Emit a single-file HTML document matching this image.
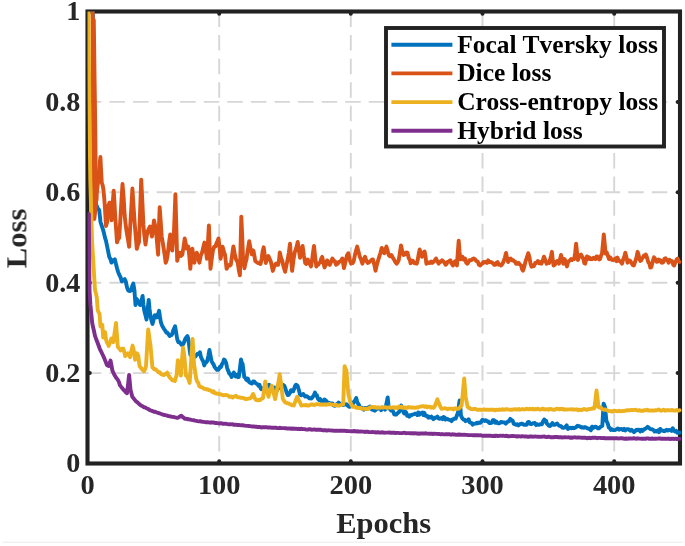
<!DOCTYPE html>
<html><head><meta charset="utf-8"><style>
html,body{margin:0;padding:0;background:#fff;width:685px;height:546px;overflow:hidden}
body>svg{display:block;filter:blur(0.4px)}
text{font-family:"Liberation Serif",serif;font-weight:bold;fill:#262626}
.txt{opacity:0.999}
.t{font-size:27.6px}
.l{font-size:30px}
.g{font-size:24.6px;fill:#000}
</style></head><body>
<svg width="685" height="546" viewBox="0 0 685 546">
<rect x="0" y="0" width="685" height="546" fill="#fff"/>
<line x1="2.5" y1="542.3" x2="683" y2="542.3" stroke="#f1f1f1" stroke-width="1.5"/>
<line x1="85.84" y1="373.1" x2="680.0" y2="373.1" stroke="#d6d6d6" stroke-width="1.9" stroke-dasharray="15.5 8.08"/>
<line x1="85.84" y1="282.7" x2="680.0" y2="282.7" stroke="#d6d6d6" stroke-width="1.9" stroke-dasharray="15.5 8.08"/>
<line x1="85.84" y1="192.3" x2="680.0" y2="192.3" stroke="#d6d6d6" stroke-width="1.9" stroke-dasharray="15.5 8.08"/>
<line x1="85.84" y1="101.9" x2="680.0" y2="101.9" stroke="#d6d6d6" stroke-width="1.9" stroke-dasharray="15.5 8.08"/>
<line x1="219.2" y1="11.5" x2="219.2" y2="463.5" stroke="#d6d6d6" stroke-width="1.9" stroke-dasharray="15.5 8.08"/>
<line x1="350.8" y1="11.5" x2="350.8" y2="463.5" stroke="#d6d6d6" stroke-width="1.9" stroke-dasharray="15.5 8.08"/>
<line x1="482.5" y1="11.5" x2="482.5" y2="463.5" stroke="#d6d6d6" stroke-width="1.9" stroke-dasharray="15.5 8.08"/>
<line x1="614.2" y1="11.5" x2="614.2" y2="463.5" stroke="#d6d6d6" stroke-width="1.9" stroke-dasharray="15.5 8.08"/>
<rect x="87.5" y="11.5" width="592.5" height="452.0" fill="none" stroke="#222222" stroke-width="4.1"/>
<line x1="219.2" y1="462.9" x2="219.2" y2="461.2" stroke="#222222" stroke-width="4" stroke-linecap="round"/>
<line x1="219.2" y1="12.1" x2="219.2" y2="13.8" stroke="#222222" stroke-width="4" stroke-linecap="round"/>
<line x1="350.8" y1="462.9" x2="350.8" y2="461.2" stroke="#222222" stroke-width="4" stroke-linecap="round"/>
<line x1="350.8" y1="12.1" x2="350.8" y2="13.8" stroke="#222222" stroke-width="4" stroke-linecap="round"/>
<line x1="482.5" y1="462.9" x2="482.5" y2="461.2" stroke="#222222" stroke-width="4" stroke-linecap="round"/>
<line x1="482.5" y1="12.1" x2="482.5" y2="13.8" stroke="#222222" stroke-width="4" stroke-linecap="round"/>
<line x1="614.2" y1="462.9" x2="614.2" y2="461.2" stroke="#222222" stroke-width="4" stroke-linecap="round"/>
<line x1="614.2" y1="12.1" x2="614.2" y2="13.8" stroke="#222222" stroke-width="4" stroke-linecap="round"/>
<line x1="88.1" y1="373.1" x2="89.8" y2="373.1" stroke="#222222" stroke-width="4" stroke-linecap="round"/>
<line x1="679.4" y1="373.1" x2="677.7" y2="373.1" stroke="#222222" stroke-width="4" stroke-linecap="round"/>
<line x1="88.1" y1="282.7" x2="89.8" y2="282.7" stroke="#222222" stroke-width="4" stroke-linecap="round"/>
<line x1="679.4" y1="282.7" x2="677.7" y2="282.7" stroke="#222222" stroke-width="4" stroke-linecap="round"/>
<line x1="88.1" y1="192.3" x2="89.8" y2="192.3" stroke="#222222" stroke-width="4" stroke-linecap="round"/>
<line x1="679.4" y1="192.3" x2="677.7" y2="192.3" stroke="#222222" stroke-width="4" stroke-linecap="round"/>
<line x1="88.1" y1="101.9" x2="89.8" y2="101.9" stroke="#222222" stroke-width="4" stroke-linecap="round"/>
<line x1="679.4" y1="101.9" x2="677.7" y2="101.9" stroke="#222222" stroke-width="4" stroke-linecap="round"/>
<svg x="87.5" y="11.5" width="594.5" height="452.0" viewBox="87.5 11.5 594.5 452.0" overflow="hidden">
<polyline points="92.8,0.0 93.5,150.0 95.3,202.0 96.6,205.8 97.9,208.6 99.2,210.0 100.5,222.0 101.6,225.4 102.7,228.6 103.8,232.4 104.9,237.4 106.0,240.9 107.1,246.2 108.2,251.7 109.3,257.1 110.4,259.0 111.5,262.6 112.6,260.3 113.7,260.6 114.8,259.3 115.9,263.8 117.0,268.1 118.1,271.9 119.2,274.7 120.5,277.2 121.8,281.3 122.8,280.6 123.7,279.8 124.7,279.1 125.8,281.5 126.9,286.9 128.0,290.1 129.0,290.8 130.0,291.0 131.1,290.5 132.2,286.2 133.3,283.5 134.4,290.0 135.5,305.0 136.6,299.0 137.7,300.4 138.8,302.0 139.6,304.5 140.4,305.0 141.5,300.7 142.6,296.0 143.4,304.2 144.3,310.8 145.4,314.9 146.5,319.6 147.6,310.0 148.7,300.0 149.5,308.5 150.3,315.2 151.4,320.2 152.5,324.0 153.6,319.7 154.7,315.2 155.8,315.4 156.9,317.4 158.0,314.5 159.1,310.8 159.9,316.4 160.8,321.8 161.9,325.2 163.0,327.3 164.1,329.1 165.2,330.5 166.3,332.5 167.4,332.7 168.5,334.3 169.6,336.0 170.5,335.4 171.4,335.1 172.3,333.8 173.2,330.3 174.2,328.4 175.1,326.2 176.1,332.2 177.2,339.0 178.3,342.2 179.4,342.0 180.5,343.4 181.6,344.9 182.3,345.1 183.1,344.2 184.1,342.1 185.2,339.0 186.3,337.3 187.4,336.1 188.2,338.4 188.9,343.4 189.7,350.1 190.4,355.1 191.4,355.7 192.3,357.6 193.3,358.0 194.4,356.2 195.5,356.6 196.6,354.8 197.7,353.7 198.8,354.0 199.9,352.2 201.0,357.1 202.1,359.5 203.2,361.3 204.3,365.4 205.3,362.8 206.2,362.4 207.2,361.0 208.3,356.1 209.4,350.0 210.5,355.6 211.6,361.0 212.6,363.2 213.5,364.1 214.5,366.9 215.7,368.4 217.0,369.8 218.2,369.8 219.2,368.5 220.1,366.6 221.1,366.9 222.1,363.8 223.0,362.6 224.0,359.5 225.0,360.5 226.1,362.9 227.2,368.2 228.3,370.9 229.4,373.7 230.5,374.5 231.6,377.0 232.7,374.7 233.8,372.6 234.7,374.3 235.5,376.4 236.3,375.6 237.1,374.8 237.9,377.2 238.8,377.0 239.9,368.6 241.0,359.4 241.8,362.7 242.6,363.8 243.4,370.3 244.3,377.0 245.2,377.7 246.1,379.5 247.0,380.3 247.9,378.6 248.9,381.7 249.8,382.5 250.9,383.2 252.0,383.6 253.1,381.5 254.2,381.4 255.3,382.9 256.4,383.6 257.5,384.2 258.6,385.8 259.5,384.8 260.4,387.8 261.3,389.1 262.4,388.3 263.5,389.1 264.4,387.9 265.4,387.5 266.3,386.9 267.2,387.2 268.1,385.5 269.0,384.7 270.1,385.8 271.2,386.9 272.3,387.8 273.4,388.0 274.5,387.6 275.6,390.2 276.7,390.7 277.8,389.1 278.9,387.1 280.0,387.3 281.1,385.8 282.2,384.8 283.3,385.0 284.4,385.8 285.5,388.8 286.6,392.4 287.7,395.1 288.8,394.6 289.9,393.0 291.0,390.2 292.1,390.2 293.2,391.3 294.1,388.9 295.1,385.9 296.0,384.7 296.8,385.2 297.6,385.8 298.8,389.7 300.0,394.6 301.1,395.2 302.3,394.5 303.3,394.0 304.3,395.5 305.3,396.5 306.3,396.1 307.4,396.6 308.4,397.5 309.4,398.4 310.4,398.3 311.4,398.5 312.6,397.0 313.8,395.5 315.0,392.5 315.9,395.5 316.9,395.3 317.8,398.5 319.0,400.0 320.2,399.0 321.4,401.5 322.4,400.8 323.5,401.8 324.5,399.5 325.5,400.3 326.5,401.2 327.5,402.5 328.5,402.9 329.5,403.0 330.5,403.3 331.5,403.5 332.5,403.4 333.5,405.4 334.5,405.8 335.5,405.5 336.5,404.3 337.6,403.8 338.6,402.5 339.6,403.7 340.6,404.7 341.6,404.5 342.6,404.8 343.6,405.1 344.6,404.3 345.6,404.5 346.6,404.3 347.6,405.4 348.6,406.5 349.6,406.9 350.6,406.3 351.6,405.1 352.6,404.5 353.8,401.9 355.0,400.4 356.2,398.0 357.4,402.7 358.7,404.5 359.7,407.2 360.7,407.6 361.7,407.7 362.7,408.9 363.7,409.6 364.7,408.0 365.7,408.0 366.7,408.6 367.7,408.1 368.8,407.2 369.8,406.5 370.8,408.4 371.8,409.6 372.8,409.6 373.9,410.3 374.9,410.7 376.0,409.6 377.0,408.8 378.1,408.0 379.1,408.6 380.1,408.7 381.1,410.2 382.1,407.6 383.1,408.6 384.1,408.0 385.1,409.6 386.4,403.8 387.7,397.5 388.4,404.3 389.1,408.6 390.1,408.4 391.1,410.6 392.1,410.6 393.1,411.4 394.2,414.3 395.2,414.6 396.2,414.6 397.2,413.5 398.2,412.6 399.2,411.9 400.2,407.5 401.2,405.5 402.2,408.0 403.2,411.6 404.2,413.5 405.2,411.5 406.2,412.6 407.2,415.8 408.3,415.2 409.3,416.6 410.3,415.1 411.3,415.3 412.3,414.6 413.3,414.4 414.3,414.1 415.3,413.6 416.3,413.7 417.3,415.0 418.3,412.4 419.3,414.6 420.3,413.5 421.3,413.0 422.3,412.6 423.3,415.1 424.4,412.9 425.4,415.6 426.4,416.0 427.4,416.0 428.4,417.6 429.4,416.7 430.4,417.5 431.4,416.6 432.4,417.6 433.4,419.2 434.4,418.6 435.4,417.4 436.4,417.5 437.4,416.6 438.4,418.3 439.5,418.7 440.5,418.6 441.5,418.1 442.5,419.1 443.5,417.1 444.5,417.6 445.5,419.6 446.5,418.7 447.5,419.0 448.5,419.6 449.5,419.8 450.5,420.3 451.5,421.1 452.5,419.6 453.5,419.1 454.6,418.6 455.6,418.6 456.9,415.6 458.2,411.6 458.9,405.3 459.6,400.5 460.3,406.6 461.0,415.6 462.3,418.3 463.6,419.6 464.6,419.6 465.6,421.2 466.6,420.6 467.6,420.3 468.6,419.2 469.7,422.4 470.7,422.7 471.7,423.1 472.7,424.6 473.7,423.9 474.7,423.7 475.9,423.5 477.0,422.7 478.0,423.3 479.0,422.5 480.0,422.9 481.2,422.0 482.3,419.9 483.5,420.1 484.7,420.9 485.8,420.2 487.0,421.3 488.2,421.5 489.3,423.0 490.5,423.0 491.7,422.8 492.8,420.2 494.0,420.1 495.2,422.8 496.3,421.5 497.5,423.0 498.7,423.3 499.8,423.1 501.0,421.9 502.2,422.3 503.3,422.4 504.5,422.5 505.7,423.6 506.8,422.5 508.0,421.3 509.2,421.3 510.3,418.9 511.5,420.1 512.7,420.8 513.8,423.8 515.0,424.2 516.2,424.8 517.3,424.2 518.5,425.4 519.7,424.3 520.8,423.9 522.0,423.6 523.2,424.6 524.3,424.7 525.5,424.8 526.7,424.7 527.8,422.2 529.0,421.9 530.2,423.9 531.4,424.2 532.6,423.4 533.7,423.1 534.9,423.0 536.1,425.1 537.2,424.3 538.4,424.8 539.6,424.5 540.7,424.2 541.9,424.2 543.0,421.5 544.2,419.5 545.1,421.4 546.0,420.7 546.9,423.6 547.7,424.2 548.9,425.7 550.1,426.0 551.2,424.7 552.4,423.0 553.5,424.8 554.7,424.8 555.9,424.1 557.1,423.6 558.1,424.8 559.0,425.5 560.0,426.0 561.1,426.2 562.2,427.7 563.3,427.9 564.4,427.7 565.5,426.7 566.7,425.4 567.9,428.9 569.2,428.3 570.4,427.6 571.6,428.3 572.8,427.8 574.0,428.2 575.2,427.7 576.4,426.9 577.6,425.7 578.8,426.2 580.0,426.5 581.3,427.6 582.5,427.2 583.7,427.7 584.9,427.1 586.1,427.6 587.3,428.2 588.5,428.8 589.7,428.7 590.9,430.2 592.1,426.7 593.3,427.9 594.5,427.0 595.7,426.7 596.7,427.2 597.8,428.3 598.8,428.4 599.8,427.6 601.0,426.6 602.3,425.9 603.6,403.7 604.4,405.3 605.1,407.8 606.4,421.0 607.6,423.1 608.8,427.6 609.8,428.1 610.9,429.9 612.0,429.2 613.0,430.0 614.2,430.2 615.5,429.8 616.7,429.1 617.9,428.4 619.1,429.7 620.4,429.1 621.6,428.9 622.9,430.0 624.1,428.8 625.3,430.4 626.6,429.1 627.8,429.2 629.0,429.4 630.2,430.8 631.5,429.8 632.7,430.9 634.0,432.2 635.2,431.0 636.5,429.8 637.7,430.0 638.9,429.7 640.2,431.4 641.4,429.7 642.6,430.9 643.9,429.3 645.1,428.9 646.4,428.0 647.6,426.8 648.7,427.6 649.8,428.7 650.9,429.2 652.1,429.3 653.3,429.9 654.6,431.6 655.8,430.9 656.9,431.4 658.0,430.4 659.1,432.2 660.2,428.9 661.3,430.6 662.4,430.5 663.5,431.0 664.6,431.2 665.7,430.3 666.8,429.8 667.9,430.6 669.0,430.0 670.2,430.1 671.5,430.9 672.8,428.2 674.0,430.9 675.1,431.5 676.2,430.9 677.3,432.7 678.4,432.8 679.5,432.5" fill="none" stroke="#0072BD" stroke-width="3.9" stroke-linejoin="round" stroke-linecap="round"/>
<polyline points="93.8,20.0 94.6,80.0 95.3,130.0 95.7,175.0 96.5,200.0" fill="none" stroke="#D95319" stroke-width="3.9" stroke-linejoin="round" stroke-linecap="round"/>
<polyline points="92.6,0.0 93.2,100.0 93.7,150.0 94.3,219.0 95.5,208.9 96.7,193.5 98.0,182.2 99.2,169.5 100.4,157.0 101.1,170.8 101.8,183.0 102.6,184.9 103.4,189.6 104.2,197.9 104.9,207.0 106.0,226.0 107.1,222.5 107.8,213.0 108.6,205.0 109.5,202.8 110.4,202.7 111.5,220.3 112.6,204.7 113.7,190.7 114.5,202.8 115.2,216.0 116.1,228.9 117.0,242.3 118.1,239.2 119.2,238.0 120.3,220.4 121.4,201.5 122.5,184.0 123.6,196.8 124.7,216.0 125.8,225.9 126.9,233.5 128.0,239.7 129.1,246.7 130.2,226.6 131.3,208.2 132.4,188.5 133.5,205.7 134.6,222.5 135.7,235.8 136.8,248.9 137.9,244.7 139.0,242.3 140.1,211.2 141.2,179.7 142.3,200.7 143.4,224.7 144.4,236.0 145.5,244.5 146.6,236.6 147.7,231.3 148.8,228.7 150.0,226.5 151.0,231.5 152.0,236.5 153.0,228.7 154.0,220.4 155.0,225.2 156.0,230.5 157.1,243.1 158.1,254.7 158.9,227.4 159.7,207.3 160.7,221.7 161.7,236.5 162.7,242.3 163.7,248.6 164.7,255.1 165.7,262.7 166.7,260.1 167.7,254.7 168.9,243.5 170.2,234.5 171.2,242.3 172.2,250.6 173.0,241.4 173.8,236.5 174.6,215.5 175.4,194.2 176.3,225.7 177.2,260.7 178.5,255.0 179.8,252.7 181.1,255.9 182.3,254.7 183.5,247.2 184.7,238.5 185.7,243.4 186.7,248.6 187.5,247.6 188.3,246.6 189.3,256.1 190.3,268.8 191.3,257.5 192.3,248.6 193.4,255.9 194.4,262.7 195.6,255.4 196.8,252.7 198.1,257.8 199.4,262.7 200.7,255.8 202.0,252.7 203.2,247.6 204.4,242.6 205.7,249.4 206.9,258.7 207.9,243.7 208.9,225.4 209.7,248.0 210.5,268.8 211.7,259.0 212.9,250.6 214.2,246.6 215.5,246.6 216.5,243.0 217.5,241.0 218.5,238.5 219.6,247.5 220.6,258.7 221.6,252.8 222.6,246.6 223.8,251.5 225.0,254.7 225.8,261.6 226.6,268.8 227.8,266.3 229.0,265.0 229.9,265.6 230.8,264.8 232.1,255.2 233.4,246.4 234.7,253.7 236.0,259.5 236.9,260.8 237.8,263.0 238.9,270.7 239.9,275.3 240.6,245.5 241.3,216.6 242.2,236.0 243.0,257.8 243.7,263.0 244.4,268.3 245.4,263.1 246.5,259.5 247.4,252.3 248.3,247.0 249.2,241.2 250.5,248.4 251.8,254.3 252.7,250.2 253.5,250.8 254.4,255.9 255.3,261.3 256.6,261.9 257.9,263.0 259.2,263.2 260.5,264.0 261.6,259.1 262.6,251.4 263.7,247.3 264.8,255.7 265.8,263.0 267.1,259.1 268.4,256.0 269.5,258.6 270.7,261.3 271.8,265.8 272.8,270.9 274.1,267.0 275.4,264.0 276.3,263.6 277.2,264.8 278.1,264.8 279.0,260.7 279.8,252.5 281.1,257.9 282.4,261.3 283.3,265.6 284.2,268.8 285.1,271.8 286.4,265.1 287.7,259.5 288.9,252.2 290.0,243.8 291.1,259.3 292.1,270.9 293.4,260.3 294.7,252.5 295.7,249.7 296.7,246.4 297.7,242.0 298.9,250.1 300.0,257.8 301.3,252.6 302.6,245.9 303.9,255.8 305.2,263.0 306.1,264.0 307.0,261.9 307.9,259.5 308.9,263.4 310.0,264.4 311.0,266.5 312.0,260.4 313.0,252.9 314.0,245.9 315.1,256.4 316.3,266.5 317.3,264.8 318.2,264.8 319.2,263.0 320.2,262.4 321.2,258.7 322.2,256.9 323.4,262.3 324.5,267.4 325.8,264.5 327.1,260.4 328.0,261.8 328.9,264.2 329.8,264.8 331.1,261.9 332.4,258.5 333.5,260.2 334.8,261.2 336.1,264.7 337.0,262.7 337.9,263.6 338.8,262.0 340.0,261.4 341.1,260.7 342.3,258.5 343.1,263.5 344.0,268.1 344.9,264.3 345.8,260.2 347.1,255.1 348.4,253.2 349.7,259.8 351.0,263.7 351.9,261.9 352.8,263.0 353.7,261.1 354.9,255.1 356.0,250.7 357.2,246.6 358.5,251.8 359.8,256.7 361.1,259.7 362.4,263.7 363.7,259.5 365.0,256.7 365.9,259.6 366.8,261.5 367.7,262.9 369.0,262.4 370.3,261.1 371.6,259.9 372.9,259.4 374.2,264.2 375.5,270.7 376.4,266.7 377.3,263.1 378.2,260.2 379.4,256.1 380.5,252.8 381.7,248.0 383.0,250.4 384.3,253.2 385.4,249.1 386.4,246.6 387.5,250.2 388.7,255.0 390.0,256.3 391.3,255.0 392.6,257.3 393.9,259.4 394.8,261.1 395.7,262.5 396.6,263.7 397.6,262.5 398.7,260.2 399.9,252.9 401.0,245.4 402.3,251.4 403.6,255.0 404.9,254.5 406.2,252.4 407.5,252.6 408.8,258.5 409.7,259.2 410.6,263.2 411.5,261.1 412.8,260.7 414.1,262.9 415.4,263.4 416.7,263.7 417.7,260.0 418.7,254.2 419.7,249.4 420.9,254.4 422.0,256.7 423.3,252.8 424.6,251.5 425.5,256.3 426.4,263.7 427.6,263.2 428.7,262.4 429.9,262.9 431.1,261.5 432.2,262.9 433.4,262.0 434.7,260.5 436.0,258.5 437.3,261.1 438.6,263.7 439.8,262.1 440.9,261.6 442.1,260.2 443.3,261.6 444.4,262.5 445.6,264.7 446.6,263.9 447.6,262.0 448.5,261.8 449.4,260.9 450.3,260.2 451.6,263.5 452.9,265.5 454.2,262.2 455.5,261.1 456.2,263.2 456.9,265.5 457.8,252.6 458.7,240.7 459.5,251.4 460.4,259.4 461.4,258.6 462.5,256.7 463.8,259.7 465.1,258.5 466.2,262.7 467.4,263.7 468.4,262.2 469.4,260.3 470.4,260.2 471.6,260.1 472.7,258.8 473.9,258.5 475.2,259.6 476.5,261.1 477.7,261.5 478.8,264.6 480.0,265.5 481.2,264.5 482.3,263.6 483.5,262.0 484.7,262.6 485.8,261.7 487.0,262.9 488.2,260.4 489.3,262.0 490.5,262.0 491.7,262.3 492.9,263.3 494.1,264.7 495.3,264.8 496.4,262.8 497.6,262.0 498.8,264.7 499.9,264.5 501.1,265.5 502.4,264.0 503.7,261.1 504.9,257.5 506.0,252.9 507.1,258.3 508.1,262.0 509.4,259.0 510.7,258.5 512.0,260.4 513.3,260.2 514.2,261.5 515.1,261.6 516.0,263.7 517.3,263.9 518.6,262.9 519.9,264.5 521.2,265.5 522.1,269.4 523.0,270.7 524.3,266.6 525.6,261.1 526.9,257.5 528.2,253.2 529.4,256.8 530.5,263.7 531.5,266.7 532.6,266.4 533.9,266.1 535.2,262.9 536.1,263.1 537.0,262.2 537.9,261.1 539.1,263.2 540.2,262.0 541.4,263.7 542.7,260.9 544.0,256.7 545.3,260.2 546.6,263.7 547.9,262.3 549.2,262.9 550.1,259.6 551.0,255.9 551.9,251.8 552.8,260.4 553.6,265.5 554.9,264.7 556.2,262.0 557.1,261.0 558.0,261.2 558.9,263.7 560.0,259.3 561.0,255.0 562.1,259.1 563.3,263.7 564.6,259.1 565.8,261.8 566.9,266.4 568.0,262.2 569.1,260.9 570.0,260.4 571.0,259.1 571.9,260.0 573.0,258.9 574.2,259.1 575.2,252.2 576.1,243.6 577.0,252.0 577.9,260.0 578.9,257.4 580.0,255.3 581.0,254.6 582.2,256.7 583.4,259.1 584.3,263.1 585.2,263.7 586.1,259.5 587.0,256.4 588.0,259.0 589.1,257.4 590.1,259.1 591.0,258.6 591.9,259.2 592.8,258.2 593.7,257.7 594.7,258.9 595.6,259.1 596.5,256.4 597.4,256.4 598.3,258.0 599.2,259.4 600.1,259.1 601.0,255.7 602.0,253.6 602.9,244.2 603.8,234.5 604.7,243.6 605.6,253.6 606.7,252.4 607.8,255.5 609.0,259.1 610.2,257.3 611.1,258.8 612.0,259.9 612.9,260.0 613.8,259.8 614.8,259.0 615.7,258.2 616.6,261.2 617.5,257.6 618.4,260.0 619.6,260.9 620.8,262.0 622.0,263.7 623.1,259.8 624.2,257.1 625.3,252.7 626.4,257.0 627.5,262.7 628.4,260.8 629.4,260.4 630.3,260.9 631.5,262.9 632.7,264.9 633.9,265.5 635.1,261.7 636.4,258.0 637.6,251.8 638.5,254.3 639.4,258.9 640.3,260.9 641.2,260.4 642.1,258.3 643.0,257.3 643.9,255.6 644.9,256.4 645.8,254.6 646.7,256.6 647.6,259.7 648.5,262.7 649.4,263.3 650.3,267.5 651.2,267.3 652.1,263.9 653.1,260.1 654.0,257.3 654.9,258.6 655.8,260.1 656.7,261.9 657.6,261.7 658.6,259.5 659.5,260.9 660.4,260.3 661.3,262.6 662.2,262.7 663.3,262.3 664.4,258.7 665.5,258.2 666.5,259.8 667.6,260.6 668.6,262.7 669.5,259.8 670.4,261.2 671.3,260.9 672.2,261.3 673.2,264.8 674.1,265.5 675.0,263.2 675.9,261.2 676.8,259.1 677.7,258.6 678.6,261.1 679.5,261.9" fill="none" stroke="#D95319" stroke-width="3.9" stroke-linejoin="round" stroke-linecap="round"/>
<polyline points="88.5,0.0 89.2,100.0 90.3,180.0 92.0,240.0 93.0,256.7 94.0,273.8 95.0,290.0 95.9,293.3 96.8,297.3 97.7,310.0 98.6,312.2 99.5,313.8 100.5,326.6 101.4,325.6 102.3,324.8 103.2,337.6 104.1,334.7 105.0,332.0 106.0,339.5 106.9,342.3 107.8,343.8 108.7,345.9 109.6,343.4 110.5,341.2 111.4,338.5 112.3,340.7 113.3,342.2 114.2,335.8 115.1,329.6 116.0,323.0 116.9,334.6 117.8,346.8 118.7,347.9 119.7,349.0 120.6,350.4 121.5,349.3 122.4,348.7 123.3,348.6 124.2,351.7 125.2,356.0 126.1,355.0 127.0,354.1 127.9,353.2 128.9,355.1 130.0,357.2 131.3,351.4 132.6,345.6 133.8,350.8 135.1,359.7 136.1,356.0 137.1,353.3 138.3,355.9 139.6,366.2 140.6,367.4 141.5,368.7 142.8,370.1 144.1,371.3 145.1,369.0 146.0,366.2 147.1,347.6 148.2,329.5 149.3,337.4 150.5,345.6 151.4,355.8 152.4,367.4 153.4,368.2 154.4,369.4 155.5,369.3 156.5,370.2 157.6,371.3 158.7,372.5 159.7,372.2 160.8,373.8 161.9,374.5 162.9,374.8 164.0,375.1 165.1,374.2 166.1,373.6 167.2,372.6 168.1,374.7 169.1,376.4 170.2,378.1 171.2,378.9 172.3,380.3 173.6,380.4 174.9,381.0 175.7,378.1 176.5,375.6 177.2,367.6 177.9,360.3 178.7,364.3 179.4,368.3 180.2,371.7 180.9,375.6 181.6,364.0 182.3,356.3 183.1,347.8 183.8,352.2 184.5,358.0 185.2,366.4 186.0,375.6 186.7,376.0 187.4,377.1 188.5,379.3 189.6,383.0 190.6,369.0 191.6,352.8 192.6,339.0 193.3,351.4 194.0,364.0 195.1,371.1 196.2,378.6 197.2,381.6 198.2,382.8 199.2,385.9 200.5,387.0 201.8,387.1 203.0,388.0 204.3,388.8 205.5,388.9 206.6,389.6 207.8,389.3 208.9,390.0 210.1,390.3 211.3,391.0 212.5,392.1 213.6,391.2 214.8,393.2 216.0,393.2 217.2,393.8 218.4,393.6 219.5,394.2 220.7,394.2 221.9,394.7 223.1,395.4 224.2,395.1 225.4,395.0 226.5,395.2 227.7,395.4 228.6,396.0 229.4,396.8 230.5,396.7 231.6,396.5 232.7,397.5 233.8,396.8 234.9,396.3 236.0,395.8 237.1,397.1 238.2,397.3 239.3,397.4 240.4,397.7 241.5,397.7 242.6,397.9 243.7,398.1 244.8,398.6 245.9,399.1 247.0,399.0 248.1,398.6 249.2,398.5 250.3,398.4 251.2,397.6 252.2,395.7 253.1,394.0 253.9,395.6 254.7,397.9 255.8,399.8 256.9,400.1 258.0,400.4 259.1,399.9 260.2,400.1 261.1,399.0 262.1,398.7 263.0,397.9 264.1,389.4 265.2,381.4 266.0,386.0 266.8,391.3 267.6,393.6 268.5,396.8 269.3,393.3 270.1,390.2 271.0,388.4 271.8,385.8 272.6,388.9 273.4,392.4 274.2,395.2 275.1,399.0 275.9,395.4 276.7,391.3 277.5,386.9 278.4,382.5 279.7,374.2 280.4,379.2 281.1,383.6 282.0,391.7 282.8,399.0 283.9,400.6 285.0,402.3 285.9,402.6 286.8,403.0 287.7,403.4 288.8,403.4 289.9,404.4 291.0,404.5 291.9,405.3 292.9,405.2 293.8,405.5 294.6,403.3 295.4,401.2 296.2,398.9 297.1,396.8 297.9,398.2 298.7,400.1 300.0,402.5 301.3,405.5 302.5,405.4 303.7,405.2 304.9,405.3 306.1,404.9 307.3,405.5 308.5,405.5 309.6,405.2 310.8,404.7 311.9,404.1 313.1,404.8 314.2,405.0 315.4,404.5 316.6,404.2 317.7,404.3 318.9,404.3 320.0,404.7 321.2,404.2 322.3,404.8 323.5,404.5 324.6,404.4 325.8,404.8 326.9,404.5 328.1,404.4 329.2,404.0 330.4,404.3 331.5,404.5 332.7,404.6 333.8,405.0 335.0,405.0 336.1,404.8 337.3,405.4 338.4,405.7 339.6,405.5 340.8,405.1 342.0,404.7 343.2,404.5 343.9,385.3 344.6,366.3 345.5,368.6 346.4,370.3 347.4,382.6 348.4,394.5 349.4,398.2 350.4,402.5 351.5,404.7 352.6,406.7 353.9,406.8 355.1,406.9 356.4,407.9 357.7,407.7 358.9,408.2 360.1,407.9 361.3,408.4 362.5,408.8 363.7,408.8 364.9,408.6 366.2,408.8 367.4,409.0 368.7,408.8 369.7,407.5 370.8,407.5 371.8,406.7 372.9,407.2 373.9,407.4 374.9,407.0 376.0,407.7 377.2,407.7 378.4,407.2 379.7,407.7 380.9,407.6 382.1,407.3 383.3,407.5 384.5,407.2 385.7,407.3 386.9,407.9 388.1,407.7 389.3,407.3 390.5,407.7 391.8,407.6 393.0,407.3 394.2,407.3 395.4,408.1 396.6,407.3 397.8,408.1 399.0,406.6 400.2,407.3 401.4,406.6 402.6,407.8 403.8,407.8 405.0,407.5 406.2,407.7 407.4,407.7 408.6,407.0 409.9,407.5 411.1,407.3 412.3,407.7 413.5,407.5 414.7,407.9 415.9,407.5 417.1,407.5 418.3,407.3 419.3,406.8 420.3,406.6 421.3,406.5 422.3,406.2 423.5,406.2 424.7,406.8 426.0,406.2 427.2,407.3 428.4,406.7 429.6,406.6 430.9,407.6 432.1,407.2 433.4,407.7 434.4,406.8 435.4,404.7 436.4,402.0 437.4,399.3 438.4,402.1 439.5,404.7 440.5,407.0 441.5,408.8 442.8,408.6 444.0,408.4 445.2,408.1 446.5,408.8 447.7,409.2 448.9,408.6 450.1,408.6 451.3,408.8 452.5,408.8 453.7,409.5 454.9,408.2 456.2,408.9 457.4,408.7 458.6,408.8 459.6,408.0 460.6,406.1 461.6,405.7 462.9,392.0 464.2,378.5 464.9,387.8 465.6,396.5 466.6,402.0 467.6,406.5 468.6,407.9 469.7,407.9 470.7,409.0 471.9,409.1 473.1,409.2 474.3,408.9 475.5,409.0 476.7,409.6 477.9,409.9 479.1,409.7 480.3,409.6 481.5,410.0 482.7,409.6 483.9,409.3 485.1,409.9 486.4,409.7 487.6,409.7 488.8,409.9 490.0,409.8 491.2,409.8 492.5,409.8 493.8,409.8 495.0,410.4 496.2,409.6 497.5,410.0 498.8,409.8 500.0,409.5 501.2,409.9 502.5,409.2 503.8,409.9 505.0,409.5 506.2,409.2 507.5,409.3 508.8,409.6 510.0,409.7 511.2,409.8 512.5,409.7 513.8,409.3 515.0,409.1 516.2,409.6 517.5,409.5 518.8,409.0 520.0,409.7 521.2,409.4 522.5,409.0 523.8,409.5 525.0,409.3 526.2,408.8 527.5,409.0 528.8,409.4 530.0,408.7 531.2,409.3 532.5,408.8 533.8,409.5 535.0,409.0 536.2,409.3 537.5,408.7 538.8,409.1 540.0,409.6 541.2,409.4 542.5,408.6 543.8,409.5 545.0,409.2 546.2,409.5 547.5,409.1 548.8,409.7 550.0,408.9 551.2,409.2 552.5,409.6 553.8,409.7 555.0,409.7 556.2,408.9 557.5,408.6 558.8,409.4 560.0,408.8 561.2,409.2 562.5,408.8 563.8,409.7 565.0,409.3 566.3,409.6 567.6,409.5 568.9,409.4 570.2,409.4 571.5,409.3 572.8,409.5 574.1,409.5 575.4,409.6 576.6,409.3 577.9,410.2 579.2,409.6 580.5,410.0 581.8,410.0 583.1,409.3 584.4,409.0 585.7,409.6 586.8,409.9 588.0,409.2 589.1,409.2 590.3,408.9 591.4,408.9 592.6,408.3 593.7,408.6 594.5,407.8 595.5,399.1 596.5,390.5 597.5,398.6 598.5,407.0 599.6,407.6 600.8,407.4 602.0,409.1 603.1,409.4 604.2,409.8 605.3,409.4 606.4,410.0 607.5,410.5 608.6,411.0 609.7,411.1 610.8,411.1 611.9,411.6 613.0,411.1 614.1,410.7 615.2,410.9 616.3,411.1 617.6,411.3 618.9,410.7 620.2,411.2 621.5,411.1 622.8,410.9 624.2,411.0 625.5,410.5 626.8,410.5 628.1,410.2 629.4,410.3 630.7,410.1 631.9,409.8 633.2,410.1 634.5,409.9 635.7,409.8 637.0,410.4 638.3,410.5 639.6,410.2 640.8,410.8 642.1,410.6 643.4,410.7 644.6,410.1 645.9,410.3 647.2,409.8 648.4,410.5 649.7,410.4 651.0,410.6 652.2,410.4 653.5,410.7 654.8,410.2 656.1,410.5 657.3,410.0 658.6,409.5 659.9,410.1 661.1,410.8 662.4,410.3 663.7,409.7 665.0,410.7 666.3,410.1 667.7,410.2 669.0,410.3 670.3,410.4 671.6,410.0 672.9,410.3 674.2,410.5 675.6,410.6 676.9,410.0 678.2,410.8 679.5,410.3" fill="none" stroke="#EDB120" stroke-width="3.9" stroke-linejoin="round" stroke-linecap="round"/>
<polyline points="88.9,214.0 89.2,260.0 89.5,290.0 90.4,304.7 91.3,313.9 92.2,323.0 93.1,327.3 94.1,331.5 95.0,335.8 95.9,338.3 96.8,340.7 97.7,343.0 98.6,345.5 99.6,348.2 100.5,350.4 101.7,352.7 102.9,355.3 104.1,357.8 105.0,360.1 106.0,362.5 106.9,365.0 107.8,365.5 108.7,366.0 109.6,363.3 110.5,360.5 111.5,365.6 112.4,370.6 113.3,372.5 114.2,374.5 115.1,376.0 116.3,378.0 117.6,379.5 118.8,381.6 120.0,385.4 121.2,386.9 122.3,388.2 123.5,389.8 124.7,390.9 125.8,392.3 127.0,393.3 128.1,384.1 129.1,374.9 129.8,382.1 130.5,389.8 131.4,393.3 132.3,396.8 133.5,398.2 134.6,399.6 135.8,401.2 137.1,402.1 138.4,403.3 139.7,404.4 141.0,405.5 142.1,406.0 143.1,406.6 144.2,407.4 145.2,407.5 146.3,408.2 147.6,408.7 148.9,409.5 150.2,410.3 151.5,410.8 152.6,411.0 153.6,411.7 154.7,411.6 155.7,412.0 156.8,412.5 158.1,412.9 159.4,413.3 160.7,413.8 162.0,414.3 163.1,414.6 164.1,415.0 165.2,415.2 166.2,415.4 167.3,415.7 168.4,416.1 169.4,416.2 170.5,416.4 171.5,416.8 172.6,416.9 173.9,417.0 175.2,417.4 176.5,417.7 177.8,417.8 179.0,417.1 180.1,416.3 181.3,415.7 182.5,416.8 183.6,417.6 184.8,418.7 185.9,418.8 186.9,418.9 188.0,419.4 189.0,419.3 190.1,419.5 191.3,419.9 192.6,420.1 193.8,420.2 195.1,420.6 196.3,420.8 197.6,421.1 198.8,421.3 200.1,421.2 201.3,421.6 202.6,421.8 203.8,421.9 205.1,422.1 206.3,422.3 207.6,422.2 208.9,422.4 210.1,422.7 211.4,422.3 212.6,422.6 213.9,422.4 215.1,423.0 216.4,423.0 217.6,423.1 218.9,423.5 220.1,423.3 221.4,423.2 222.6,423.8 223.9,423.6 225.1,423.9 226.3,423.8 227.6,424.1 228.8,424.3 230.1,424.2 231.3,424.4 232.6,424.2 233.8,424.9 235.0,424.7 236.3,424.8 237.5,425.0 238.8,425.0 240.0,425.1 241.2,425.3 242.5,425.2 243.8,425.5 245.0,425.7 246.2,425.9 247.5,425.9 248.8,426.0 250.0,426.2 251.2,426.4 252.5,426.5 253.8,426.5 255.0,426.7 256.3,426.7 257.5,427.0 258.8,426.9 260.0,427.0 261.3,427.5 262.5,427.2 263.8,427.3 265.1,427.2 266.3,427.1 267.6,427.5 268.8,427.4 270.1,427.5 271.3,427.7 272.6,427.7 273.8,427.7 275.1,427.7 276.4,427.8 277.6,428.1 278.9,428.0 280.2,427.8 281.4,428.1 282.7,428.1 283.9,428.1 285.2,428.3 286.5,428.3 287.7,428.6 289.0,428.4 290.2,428.5 291.5,428.7 292.8,428.5 294.0,428.8 295.3,428.7 296.6,428.8 297.8,429.0 299.1,428.8 300.3,429.0 301.6,428.8 302.8,429.0 304.1,429.1 305.4,429.3 306.6,429.6 307.9,429.6 309.1,429.2 310.4,429.3 311.6,429.7 312.9,429.6 314.1,429.4 315.4,429.7 316.7,429.8 317.9,429.7 319.2,429.8 320.4,429.8 321.7,430.0 322.9,430.4 324.2,430.2 325.4,430.2 326.7,430.6 328.0,430.3 329.2,430.4 330.5,430.4 331.7,430.6 333.0,430.5 334.2,430.9 335.5,430.7 336.8,430.7 338.0,430.9 339.3,430.8 340.6,430.7 341.8,430.7 343.1,430.9 344.3,430.6 345.6,431.0 346.9,431.0 348.1,431.1 349.4,431.1 350.6,431.2 351.9,431.1 353.2,431.3 354.4,431.0 355.7,431.3 357.0,431.5 358.3,431.3 359.6,431.6 360.8,431.5 362.1,431.6 363.4,431.6 364.7,432.0 366.0,431.7 367.3,431.7 368.6,432.0 369.9,432.1 371.1,432.1 372.4,432.0 373.7,432.1 375.0,432.3 376.3,432.5 377.6,432.2 378.9,432.5 380.2,432.5 381.4,432.5 382.7,432.3 384.0,432.8 385.3,432.6 386.6,432.6 387.9,432.6 389.2,432.5 390.5,432.7 391.7,432.8 393.0,432.6 394.3,432.8 395.6,433.0 396.9,432.9 398.2,432.9 399.5,433.1 400.8,433.1 402.1,433.1 403.3,432.9 404.6,432.8 405.9,433.2 407.2,433.1 408.5,433.1 409.8,433.3 411.1,433.1 412.4,433.2 413.7,433.5 414.9,433.1 416.2,433.5 417.5,433.5 418.8,433.7 420.1,433.5 421.4,433.5 422.7,433.4 424.0,433.5 425.2,433.3 426.5,433.5 427.8,433.6 429.1,433.7 430.4,433.7 431.7,433.7 433.0,434.0 434.3,433.6 435.6,433.9 436.9,433.9 438.2,434.0 439.5,434.0 440.8,434.4 442.1,434.0 443.4,434.4 444.7,434.4 445.9,434.2 447.2,434.2 448.5,434.2 449.8,434.3 451.1,434.7 452.4,434.2 453.7,434.6 455.0,434.5 456.3,434.9 457.6,434.7 458.9,434.5 460.2,434.7 461.5,434.8 462.8,434.9 464.1,434.7 465.4,434.9 466.7,434.9 468.0,435.1 469.3,435.1 470.6,435.1 471.9,435.1 473.2,435.3 474.5,435.2 475.7,435.2 477.0,435.3 478.3,435.3 479.6,435.4 480.9,435.2 482.2,435.7 483.5,435.7 484.8,435.8 486.1,435.6 487.4,435.8 488.7,435.8 490.0,435.8 491.3,435.8 492.6,436.1 493.9,435.8 495.2,436.0 496.4,435.7 497.7,436.0 499.0,435.9 500.3,435.8 501.6,435.9 502.9,435.7 504.2,435.9 505.5,436.1 506.7,435.7 508.0,436.3 509.3,436.3 510.6,436.1 511.9,436.0 513.2,436.0 514.5,436.1 515.8,436.2 517.1,436.6 518.3,436.1 519.6,436.4 520.9,436.5 522.2,436.2 523.5,436.4 524.8,436.5 526.1,436.4 527.4,436.7 528.7,436.8 529.9,436.5 531.2,436.4 532.5,436.7 533.8,436.6 535.1,436.5 536.4,436.6 537.7,436.7 539.0,436.8 540.2,436.9 541.5,436.7 542.8,436.6 544.1,436.5 545.4,436.8 546.7,437.1 548.0,436.8 549.3,436.8 550.6,437.3 551.9,437.1 553.2,437.3 554.5,437.0 555.8,436.9 557.1,437.0 558.4,437.2 559.7,437.2 560.9,437.2 562.2,437.5 563.5,437.4 564.8,437.1 566.1,437.4 567.4,437.4 568.7,437.2 570.0,437.7 571.3,437.5 572.6,437.7 573.9,437.4 575.2,437.3 576.5,437.6 577.8,437.5 579.1,437.5 580.4,437.6 581.7,437.7 583.0,437.7 584.3,437.7 585.6,437.8 586.9,438.2 588.2,438.0 589.5,437.8 590.7,438.2 592.0,437.8 593.3,437.7 594.6,437.7 595.9,437.7 597.2,438.2 598.5,437.9 599.8,437.9 601.1,438.0 602.4,438.1 603.7,438.0 605.0,438.2 606.3,438.1 607.6,438.2 608.9,438.3 610.2,438.1 611.5,438.3 612.8,438.3 614.1,438.4 615.5,438.2 616.8,438.1 618.1,438.5 619.4,438.4 620.7,438.2 622.0,438.2 623.3,438.5 624.6,438.7 625.9,438.5 627.2,438.8 628.5,438.5 629.8,438.5 631.1,438.5 632.4,438.6 633.8,438.2 635.1,438.5 636.4,438.7 637.7,438.3 639.0,438.6 640.3,438.6 641.6,438.8 642.9,438.8 644.2,438.6 645.5,438.9 646.8,438.4 648.1,438.4 649.4,438.8 650.7,438.7 652.1,438.5 653.4,438.8 654.7,438.8 656.0,438.8 657.3,438.6 658.6,438.5 659.9,438.5 661.2,438.7 662.5,438.7 663.8,438.7 665.1,438.7 666.4,438.9 667.7,438.6 669.0,438.7 670.4,439.1 671.7,438.7 673.0,438.7 674.3,439.0 675.6,438.6 676.9,439.1 678.2,438.7 679.5,438.9" fill="none" stroke="#7E2F8E" stroke-width="3.9" stroke-linejoin="round" stroke-linecap="round"/>
</svg>
<rect x="386" y="28" width="278" height="118.5" fill="#fff" stroke="#222222" stroke-width="3.9"/>
<line x1="391.4" y1="44.8" x2="452.4" y2="44.8" stroke="#0072BD" stroke-width="3.9"/>
<line x1="391.4" y1="73.4" x2="452.4" y2="73.4" stroke="#D95319" stroke-width="3.9"/>
<line x1="391.4" y1="102.1" x2="452.4" y2="102.1" stroke="#EDB120" stroke-width="3.9"/>
<line x1="391.4" y1="130.7" x2="452.4" y2="130.7" stroke="#7E2F8E" stroke-width="3.9"/>
<g style="opacity:0.999">
<text transform="translate(80.3 472.4) scale(1.02 1)" text-anchor="end" class="t">0</text>
<text transform="translate(80.3 382.0) scale(1.02 1)" text-anchor="end" class="t">0.2</text>
<text transform="translate(80.3 291.6) scale(1.02 1)" text-anchor="end" class="t">0.4</text>
<text transform="translate(80.3 201.2) scale(1.02 1)" text-anchor="end" class="t">0.6</text>
<text transform="translate(80.3 110.8) scale(1.02 1)" text-anchor="end" class="t">0.8</text>
<text transform="translate(80.3 20.4) scale(1.02 1)" text-anchor="end" class="t">1</text>
<text transform="translate(87.5 494.3) scale(1.03 1)" text-anchor="middle" class="t">0</text>
<text transform="translate(219.2 494.3) scale(1.03 1)" text-anchor="middle" class="t">100</text>
<text transform="translate(350.8 494.3) scale(1.03 1)" text-anchor="middle" class="t">200</text>
<text transform="translate(482.5 494.3) scale(1.03 1)" text-anchor="middle" class="t">300</text>
<text transform="translate(614.2 494.3) scale(1.03 1)" text-anchor="middle" class="t">400</text>
<text transform="translate(383.6 532.6) scale(1.017 1)" text-anchor="middle" class="l">Epochs</text>
<text transform="translate(26.4 238.4) rotate(-90) scale(1.02 1)" text-anchor="middle" class="l">Loss</text>
<text transform="translate(457.2 52.6) scale(1.037 1)" class="g">Focal Tversky loss</text>
<text transform="translate(457.2 81.2) scale(1.037 1)" class="g">Dice loss</text>
<text transform="translate(457.2 109.9) scale(1.037 1)" class="g">Cross-entropy loss</text>
<text transform="translate(457.2 138.5) scale(1.037 1)" class="g">Hybrid loss</text>
</g>
</svg>
</body></html>
